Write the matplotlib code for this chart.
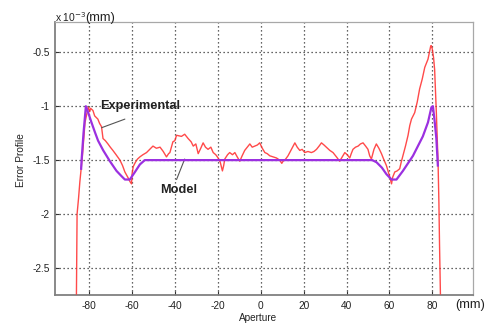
import matplotlib
matplotlib.use("Agg")
import matplotlib.pyplot as plt

plt.rcParams['font.family'] = ['Liberation Sans', 'DejaVu Sans']

# Experimental profile (red), x in mm, y in 1e-3 mm
exp_x = [-86.0, -85.7, -85.0, -84.4, -83.2, -82.0, -80.5, -79.8, -79.4, -78.3,
         -77.5, -76.0, -75.2, -74.3, -73.6, -72.5, -71.3, -70.2, -69.0, -67.5,
         -65.7, -64.5, -63.4, -62.0, -61.0, -60.3, -60.0, -59.5, -58.5, -57.5,
         -56.4, -55.0, -53.3, -51.8, -50.3, -48.7, -47.0, -45.5, -44.0, -43.0,
         -42.4, -41.0, -40.1, -39.3, -37.0, -35.5, -33.9, -32.5, -31.5, -30.3,
         -29.2, -28.0, -26.9, -25.8, -24.6, -23.3, -22.2, -21.0, -19.9, -18.9,
         -17.9, -17.3, -16.8, -15.5, -14.5, -13.2, -12.1, -11.0, -9.8, -8.7,
         -7.5, -6.3, -5.1, -4.0, -2.8, -1.6, -0.5, 0.7, 1.9, 3.0,
         4.2, 5.8, 7.3, 8.8, 9.8, 10.4, 11.6, 12.7, 14.3, 15.9,
         17.0, 18.2, 19.3, 20.5, 22.0, 23.6, 24.8, 26.0, 27.2, 28.3,
         29.5, 30.6, 32.2, 33.7, 35.3, 36.8, 38.0, 39.2, 40.3, 41.5,
         42.2, 43.0, 44.2, 45.4, 46.5, 47.7, 48.9, 50.0, 50.8, 51.6,
         52.8, 53.9, 55.1, 56.3, 57.5, 58.6, 59.8, 61.0, 61.5, 62.5,
         63.6, 64.8, 65.5, 66.3, 67.5, 68.7, 69.5, 70.3, 71.8, 73.0,
         74.1, 75.3, 76.5, 77.3, 78.0, 78.7, 79.3, 79.6, 80.0, 80.6,
         81.1, 81.5, 81.9, 82.3, 82.7, 83.1, 83.4, 83.8]
exp_y = [-2.74, -2.00, -1.85, -1.70, -1.46, -1.15, -1.01, -1.05, -1.02, -1.04,
         -1.09, -1.12, -1.16, -1.19, -1.30, -1.32, -1.35, -1.38, -1.41, -1.45,
         -1.50, -1.55, -1.61, -1.66, -1.70, -1.72, -1.62, -1.56, -1.52, -1.49,
         -1.47, -1.45, -1.43, -1.40, -1.37, -1.39, -1.38, -1.42, -1.47, -1.44,
         -1.43, -1.33, -1.32, -1.27, -1.28, -1.26, -1.30, -1.33, -1.37, -1.35,
         -1.44, -1.39, -1.34, -1.38, -1.40, -1.38, -1.43, -1.45, -1.48, -1.52,
         -1.60, -1.55, -1.49, -1.45, -1.43, -1.45, -1.43, -1.47, -1.51, -1.46,
         -1.41, -1.38, -1.35, -1.38, -1.37, -1.36, -1.34, -1.39, -1.43, -1.44,
         -1.46, -1.47, -1.48, -1.50, -1.53, -1.51, -1.49, -1.46, -1.40, -1.34,
         -1.38, -1.41, -1.40, -1.43, -1.42, -1.43, -1.42, -1.40, -1.37, -1.34,
         -1.36, -1.38, -1.41, -1.43, -1.47, -1.51, -1.47, -1.43, -1.45, -1.48,
         -1.44, -1.40, -1.38, -1.37, -1.35, -1.34, -1.37, -1.40, -1.46, -1.49,
         -1.40, -1.35, -1.39, -1.44, -1.50, -1.55, -1.63, -1.72, -1.66, -1.61,
         -1.60, -1.58, -1.52, -1.46, -1.37, -1.27, -1.18, -1.12, -1.06, -0.96,
         -0.84, -0.75, -0.64, -0.60, -0.565, -0.50, -0.44, -0.44, -0.47, -0.55,
         -0.66, -0.85, -1.06, -1.30, -1.52, -1.90, -2.30, -2.74]

# Model profile (purple)
mod_x = [-83.8, -83.6, -82.7, -81.6, -80.5, -79.0, -77.4, -75.9, -73.5, -70.4,
         -67.3, -64.9, -63.4, -61.1, -58.7, -56.4, -54.1, 52.0, 54.0, 56.5,
         58.6, 61.0, 63.3, 66.3, 71.0, 75.6, 78.0, 79.6, 80.3, 81.0,
         81.9, 82.6]
mod_y = [-1.58, -1.50, -1.25, -1.00, -1.06, -1.15, -1.24, -1.32, -1.41, -1.51,
         -1.60, -1.65, -1.68, -1.68, -1.61, -1.54, -1.50, -1.50, -1.52, -1.57,
         -1.63, -1.68, -1.68, -1.60, -1.46, -1.28, -1.15, -1.01, -1.00, -1.12,
         -1.30, -1.55]

xticks = [-80, -60, -40, -20, 0, 20, 40, 60, 80]
yticks = [-2.5, -2, -1.5, -1, -0.5]
ytick_labels = ['-2.5', '-2', '-1.5', '-1', '-0.5']

fig = plt.figure(figsize=(4.89, 3.26), dpi=100)
ax = fig.add_axes([55 / 489, 31 / 326, 418 / 489, 273 / 326])

ax.plot(exp_x, exp_y, color='#ff2a2a', lw=1.0, alpha=0.85, zorder=3)
ax.plot(mod_x, mod_y, color='#9b30e0', lw=1.6, zorder=4)

ax.set_xlim(-96, 99)
ax.set_ylim(-2.75, -0.22)
ax.set_xticks(xticks)
ax.set_xticklabels([str(t) for t in xticks])
ax.set_yticks(yticks)
ax.set_yticklabels(ytick_labels)
ax.tick_params(direction='in', length=3, width=0.8, color='#333333',
               labelsize=7.3, labelcolor='#222222', pad=4)
ax.grid(True, linestyle=(0, (1, 2.2)), color='#333333', lw=0.9)

for side in ['left', 'bottom']:
    ax.spines[side].set_color('#808080')
    ax.spines[side].set_linewidth(1.3)
for side in ['top', 'right']:
    ax.spines[side].set_color('#a8a8a8')
    ax.spines[side].set_linewidth(0.9)

# annotations
ax.text(-56.4, -1.0, 'Experimental', fontsize=9.2, fontweight='bold',
        ha='center', va='center', color='#222222')
ax.annotate('', xy=(-74.3, -1.20), xytext=(-63.4, -1.12),
            arrowprops=dict(arrowstyle='-', color='#555555', lw=0.8,
                            shrinkA=0, shrinkB=0))
ax.text(-38.5, -1.775, 'Model', fontsize=9.2, fontweight='bold',
        ha='center', va='center', color='#222222')
ax.annotate('', xy=(-35.5, -1.49), xytext=(-39.3, -1.68),
            arrowprops=dict(arrowstyle='-', color='#555555', lw=0.8,
                            shrinkA=0, shrinkB=0))

# axis texts
fig.text(55 / 489, 1 - 17.5 / 326, r'x 10$^{-3}$', fontsize=7.4,
         ha='left', va='center', color='#222222')
fig.text(85 / 489, 1 - 17.5 / 326, '(mm)', fontsize=9.3,
         ha='left', va='center', color='#222222')
fig.text(455 / 489, 1 - 305 / 326, '(mm)', fontsize=9.3,
         ha='left', va='center', color='#222222')
fig.text(258 / 489, 1 - 318 / 326, 'Aperture', fontsize=7.2,
         ha='center', va='center', color='#222222')
fig.text(21 / 489, 1 - 160 / 326, 'Error Profile', fontsize=7.3,
         rotation=90, ha='center', va='center', color='#222222')

fig.savefig('out.png', dpi=100)
